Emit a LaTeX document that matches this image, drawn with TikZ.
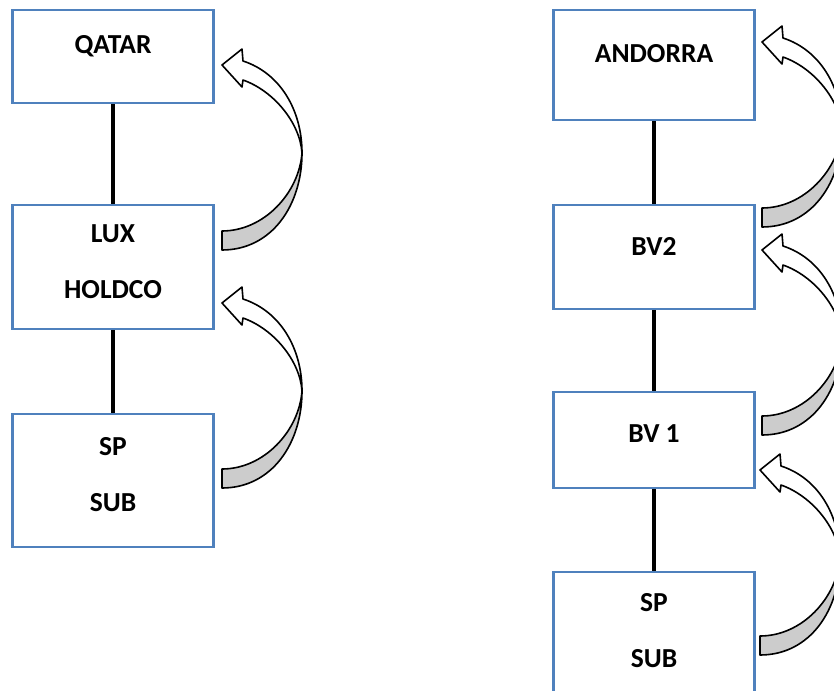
\documentclass[tikz,border=0pt]{standalone}
\usepackage{fontspec}
\setmainfont{Carlito}
\definecolor{boxblue}{RGB}{79,129,189}
\definecolor{ribbongray}{RGB}{204,204,204}
\tikzset{
  box/.style={draw=boxblue, line width=2.5pt, fill=white, inner sep=0pt, minimum width=201pt},
  lbl/.style={font=\bfseries\fontsize{27.5}{56}\selectfont, align=center, inner sep=0pt},
  conn/.style={line width=3.2pt, black},
  ribbon/.pic={
    % underside of the curved ribbon (grey)
    \filldraw[fill=ribbongray, line width=1.6pt, line join=round]
      (80,88) .. controls (80,140) and (50,185) .. (0,185) -- (0,166)
      .. controls (42,166) and (77,128) .. (80,88) -- cycle;
    % top side of the ribbon with the arrow head (white)
    \filldraw[fill=white, line width=1.6pt, line join=round]
      (0,0) -- (20,-16) -- (21,-4) .. controls (58,8) and (80,45) .. (80,88)
      .. controls (78,58) and (52,26) .. (21,15) -- (20,22) -- cycle;
  }
}
\begin{document}
\begin{tikzpicture}[x=1pt,y=-1pt]
\useasboundingbox (0,0) rectangle (834,690);
\clip (0,0) rectangle (834,690);

% left chain
\node[box, minimum height=93pt]  (qatar)  at (113,56.5) {};
\node[box, minimum height=124pt] (lux)    at (113,267)  {};
\node[box, minimum height=133pt] (subl)   at (113,480.5) {};
\draw[conn] (qatar.south) -- (lux.north);
\draw[conn] (lux.south) -- (subl.north);
\node[lbl] (tq) at (113,46)  {QATAR};
\node[lbl] (tl) at (113,262) {LUX\\HOLDCO};
\node[lbl] (ts) at (113,474.5) {SP\\SUB};

% right chain
\node[box, minimum height=110pt] (andorra) at (654,65)  {};
\node[box, minimum height=104pt] (bvtwo)   at (654,257) {};
\node[box, minimum height=96pt]  (bvone)   at (654,440) {};
\node[box, minimum height=130pt] (subr)    at (654,637) {};
\draw[conn] (andorra.south) -- (bvtwo.north);
\draw[conn] (bvtwo.south) -- (bvone.north);
\draw[conn] (bvone.south) -- (subr.north);
\node[lbl] (ta) at (654,54)  {ANDORRA};
\node[lbl] (tb) at (654,246) {BV2};
\node[lbl] (tc) at (654,434) {BV 1};
\node[lbl] (td) at (654,630.5) {SP\\SUB};

% curved return arrows
\pic at (222,65)  {ribbon};
\pic at (222,303) {ribbon};
\pic at (762,42)  {ribbon};
\pic at (762,250) {ribbon};
\pic at (760,470) {ribbon};
\end{tikzpicture}
\end{document}
